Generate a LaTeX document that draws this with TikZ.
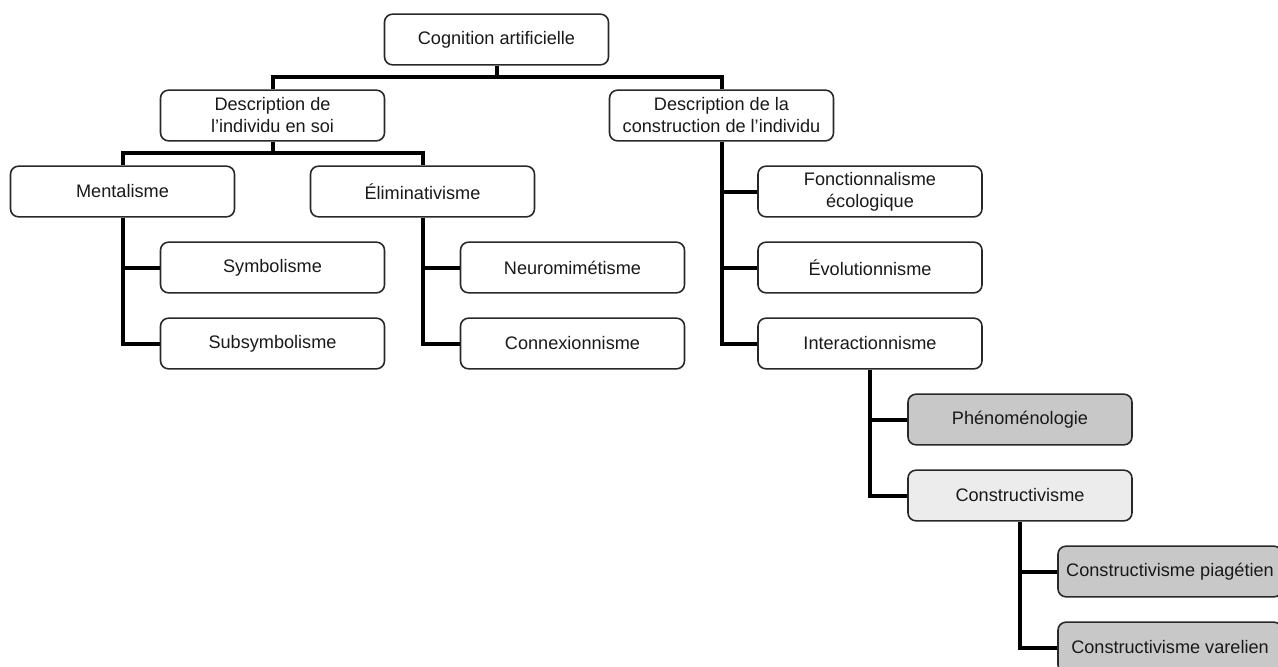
\documentclass[tikz,border=0pt]{standalone}
\usepackage{fontspec}
\setmainfont{Liberation Sans}
\definecolor{boxline}{RGB}{40,40,40}
\definecolor{darkfill}{RGB}{200,200,200}
\definecolor{lightfill}{RGB}{236,236,236}
\definecolor{txt}{RGB}{25,25,25}
\begin{document}
\begin{tikzpicture}[x=0.75pt,y=-0.75pt,
  box/.style={draw=boxline,line width=1.2pt,rounded corners=6pt,fill=white,
    minimum width=168pt,minimum height=38pt,inner sep=1pt,align=center,
    text=txt,font=\fontsize{13.6}{16.5}\selectfont},
  dbox/.style={box,fill=darkfill},
  lbox/.style={box,fill=lightfill},
  link/.style={draw=black,line width=3pt,line join=miter}]
\useasboundingbox (0,0) rectangle (1278,667);
\fill[white] (0,0) rectangle (1278,667);
\coordinate (b1) at (0,77);
\coordinate (b2) at (0,153);
% connectors first (behind nodes)
\node[box] (cog) at (496.5,39.5) {Cognition artificielle};
\node[box] (d1) at (272.5,115.5) {Description de\\l’individu en soi};
\node[box] (d2) at (721.5,115.5) {Description de la\\construction de l’individu};
\node[box] (ment) at (122.5,191.5) {Mentalisme};
\node[box] (elim) at (422.5,191.5) {Éliminativisme};
\node[box] (sym) at (272.5,267.5) {Symbolisme};
\node[box] (subsym) at (272.5,343.5) {Subsymbolisme};
\node[box] (neuro) at (572.5,267.5) {Neuromimétisme};
\node[box] (conn) at (572.5,343.5) {Connexionnisme};
\node[box] (fonc) at (870,191.5) {Fonctionnalisme\\écologique};
\node[box] (evol) at (870,267.5) {Évolutionnisme};
\node[box] (inter) at (870,343.5) {Interactionnisme};
\node[dbox] (pheno) at (1020,419.5) {Phénoménologie};
\node[lbox] (constr) at (1020,495.5) {Constructivisme};
\node[dbox] (piag) at (1170,571.5) {Constructivisme piagétien};
\node[dbox] (var) at (1170,647.5) {Constructivisme varelien};
% level 1
\draw[link] (cog.south) -- (cog.south |- b1);
\draw[link] (d1.north) -- (d1.north |- b1) -- (d2.north |- b1) -- (d2.north);
% level 2
\draw[link] (d1.south) -- (d1.south |- b2);
\draw[link] (ment.north) -- (ment.north |- b2) -- (elim.north |- b2) -- (elim.north);
% mentalisme
\draw[link] (ment.south) |- (subsym.west);
\draw[link] (ment.south |- sym.west) -- (sym.west);
% eliminativisme
\draw[link] (elim.south) |- (conn.west);
\draw[link] (elim.south |- neuro.west) -- (neuro.west);
% construction
\draw[link] (d2.south) |- (inter.west);
\draw[link] (d2.south |- fonc.west) -- (fonc.west);
\draw[link] (d2.south |- evol.west) -- (evol.west);
% interactionnisme
\draw[link] (inter.south) |- (constr.west);
\draw[link] (inter.south |- pheno.west) -- (pheno.west);
% constructivisme
\draw[link] (constr.south) |- (var.west);
\draw[link] (constr.south |- piag.west) -- (piag.west);
\end{tikzpicture}
\end{document}
